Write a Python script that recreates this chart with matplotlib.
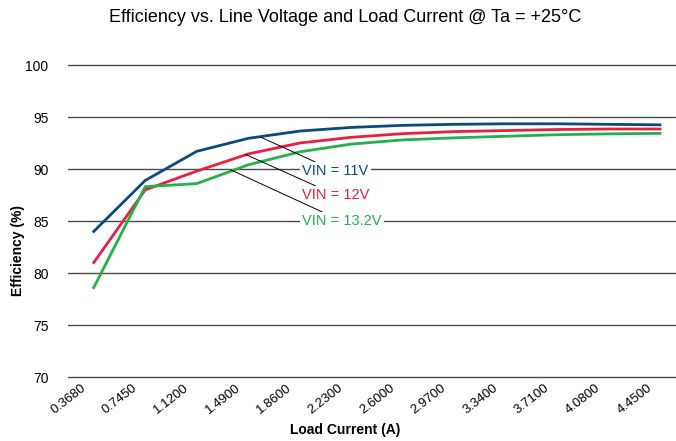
import matplotlib
matplotlib.use("Agg")
import matplotlib.pyplot as plt
import matplotlib.transforms as mtransforms

# ----------------------------------------------------
#                     DATA
# ----------------------------------------------------
load_current = ["0.3680", "0.7450", "1.1200", "1.4900", "1.8600", "2.2300",
                "2.6000", "2.9700", "3.3400", "3.7100", "4.0800", "4.4500"]
eff_11v = [84.0, 88.9, 91.7, 92.95, 93.65, 94.0, 94.2, 94.3, 94.35, 94.35, 94.3, 94.25]
eff_12v = [81.0, 88.0, 89.8, 91.45, 92.5, 93.05, 93.4, 93.6, 93.7, 93.8, 93.85, 93.85]
eff_132v = [78.6, 88.3, 88.6, 90.4, 91.65, 92.4, 92.8, 93.0, 93.15, 93.3, 93.38, 93.43]
y_ticks = [70, 75, 80, 85, 90, 95, 100]

BLUE = "#0b4a80"
RED = "#e8203f"
GREEN = "#22b24c"

plt.rcParams["font.family"] = ["Liberation Sans", "DejaVu Sans"]

# ----------------------------------------------------
#                     PLOT
# ----------------------------------------------------
fig = plt.figure(figsize=(6.76, 4.41), dpi=100)
ax = fig.add_axes([68 / 676, 0.1333, 1 - 68 / 676, 0.731])

x = list(range(len(load_current)))
ax.plot(x, eff_11v, color=BLUE, lw=2.0, zorder=3)
ax.plot(x, eff_12v, color=RED, lw=2.0, zorder=3)
ax.plot(x, eff_132v, color=GREEN, lw=2.0, zorder=3)

ax.set_xlim(-0.5, 11.31)
ax.set_ylim(69.5, 100.5)
ax.set_yticks(y_ticks)
ax.set_xticks(x)
ax.set_xticklabels(load_current, rotation=38, ha="right", va="top",
                   rotation_mode="anchor", fontsize=9.5)
ax.tick_params(axis="both", length=0)
ax.tick_params(axis="y", pad=14, labelsize=10)
ax.tick_params(axis="x", pad=0)
# shift rotated labels left, like the original
offset = mtransforms.ScaledTranslation(-13 / 100, 0, fig.dpi_scale_trans)
for lbl in ax.get_xticklabels():
    lbl.set_transform(lbl.get_transform() + offset)
for s in ax.spines.values():
    s.set_visible(False)
ax.yaxis.grid(True, color="#4a4a4a", lw=1.0)
ax.set_axisbelow(True)

fig.text(345 / 676, 1 - 430 / 441, "Load Current (A)", fontsize=10,
         fontweight="bold", ha="center", va="center")
fig.text(18 / 676, 1 - 250 / 441, "Efficiency (%)", fontsize=10,
         fontweight="bold", ha="center", va="center", rotation=90)
fig.text(345 / 676, 1 - 18 / 441,
         "Efficiency vs. Line Voltage and Load Current @ Ta = +25°C",
         fontsize=13, ha="center", va="center")

# leader-line labels
bbox = dict(boxstyle="square,pad=0.15", fc="white", ec="none")
line = dict(arrowstyle="-", color="black", lw=0.7, shrinkA=0, shrinkB=0)
ax.annotate("VIN = 11V", xy=(3.25, eff_11v[3] + 0.1), xytext=(4.05, 89.8),
            color=BLUE, fontsize=10.5, va="center", ha="left", bbox=bbox,
            arrowprops=line)
ax.annotate("VIN = 12V", xy=(2.95, 91.4), xytext=(4.05, 87.5),
            color=RED, fontsize=10.5, va="center", ha="left", bbox=bbox,
            arrowprops=line)
ax.annotate("VIN = 13.2V", xy=(2.67, 89.9), xytext=(4.05, 85.0),
            color=GREEN, fontsize=10.5, va="center", ha="left", bbox=bbox,
            arrowprops=line)

fig.savefig("out.png", dpi=100)
